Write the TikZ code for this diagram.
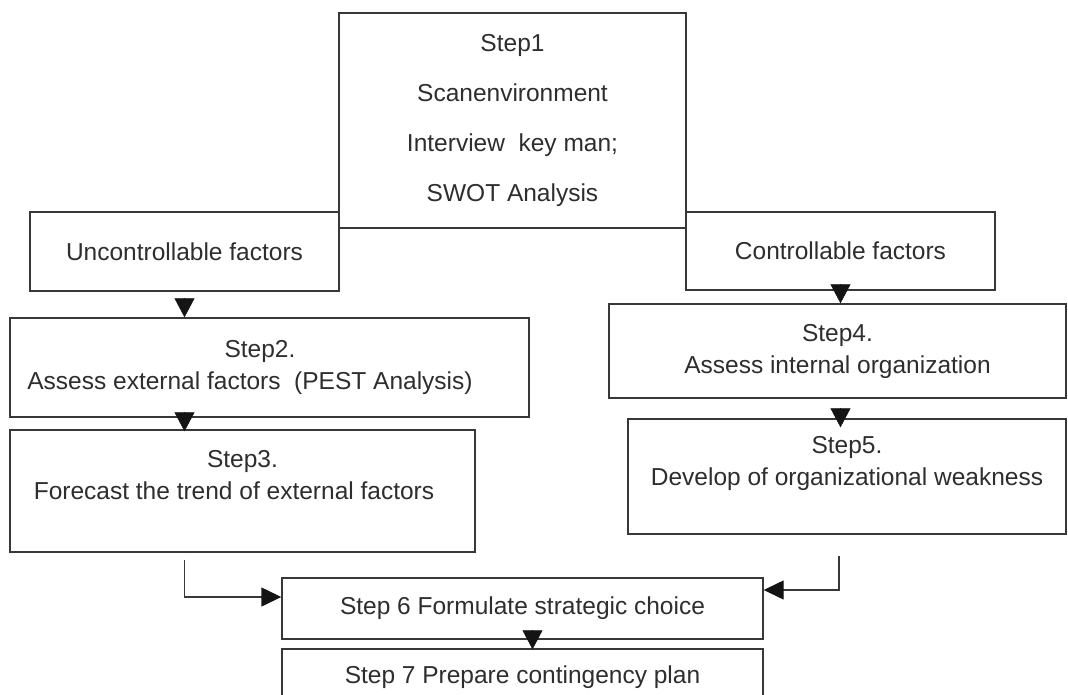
\documentclass[tikz,border=0pt]{standalone}
\usepackage{fontspec}
\setmainfont{Liberation Sans}
\usetikzlibrary{arrows.meta,calc}
\begin{document}
\begin{tikzpicture}[x=1pt,y=-1pt,
  box/.style={draw=black!78, line width=1.4pt, rectangle, inner sep=0pt, align=center,
    text=black!82, font=\fontsize{24.5}{32}\selectfont},
  tri/.style={-{Triangle[length=19pt,width=20pt]}, draw=black!92, line width=0.5pt},
  elbow/.style={draw=black!78, line width=1.4pt, -{Triangle[length=20pt,width=19pt,color=black!92]}}
]
\useasboundingbox (0,0) rectangle (1068,694);
\clip (0,0) rectangle (1068,694);
\fill[white] (0,0) rectangle (1068,694);

\node[box, minimum width=347pt, minimum height=215pt] (s1) at (512.5,120.5)
  {Step1\\[18pt]Scanenvironment\\[18pt]Interview\ \ key man;\\[18pt]SWOT Analysis};
\node[box, minimum width=309pt, minimum height=79pt] (u) at (184.5,251.5) {Uncontrollable factors};
\node[box, minimum width=309pt, minimum height=78pt] (c) at (840.5,251) {Controllable factors};
\node[box, minimum width=519pt, minimum height=99pt] (s2) at (269.5,367.5)
  {Step2.\kern19pt\\Assess external factors\ \ (PEST Analysis)\kern39pt};
\node[box, minimum width=465pt, minimum height=122pt] (s3) at (242.5,491)
  {Step3.\\Forecast the trend of external factors\kern17pt\\\mbox{}};
\node[box, minimum width=457pt, minimum height=94pt] (s4) at (837.5,351)
  {Step4.\\Assess internal organization};
\node[box, minimum width=438pt, minimum height=115pt] (s5) at (847,476.5)
  {Step5.\\Develop of organizational weakness\\\mbox{}};
\node[box, minimum width=481pt, minimum height=61pt] (s6) at (522.5,608.5)
  {Step 6 Formulate strategic choice};
\node[box, minimum width=481pt, minimum height=56pt] (s7) at (522.5,677)
  {Step 7 Prepare contingency plan};

% triangle arrows between stacked boxes
\draw[tri] ($(u.south)+(0,7)$) -- (u.south |- s2.north);
\draw[tri] ($(u.south |- s2.south)+(0,-4)$) -- ($(u.south |- s3.north)+(0,2)$);
\draw[tri] ($(c.south)+(0,-5)$) -- (c.south |- s4.north);
\draw[tri] ($(c.south |- s4.south)+(0,12)$) -- ($(c.south |- s5.north)+(0,9)$);
\draw[tri] ($(s6.south)+(10,-7)$) -- ($(s6.south |- s7.north)+(10,1)$);

% elbow connectors into step 6
\draw[elbow] ($(s3.south -| u.south)+(0,7)$) |- ($(s6.west)+(0,-11.5)$);
\draw[elbow] ($(s5.south -| c.south)+(-1.5,21)$) |- ($(s6.east)+(0,-18.5)$);
\end{tikzpicture}
\end{document}
